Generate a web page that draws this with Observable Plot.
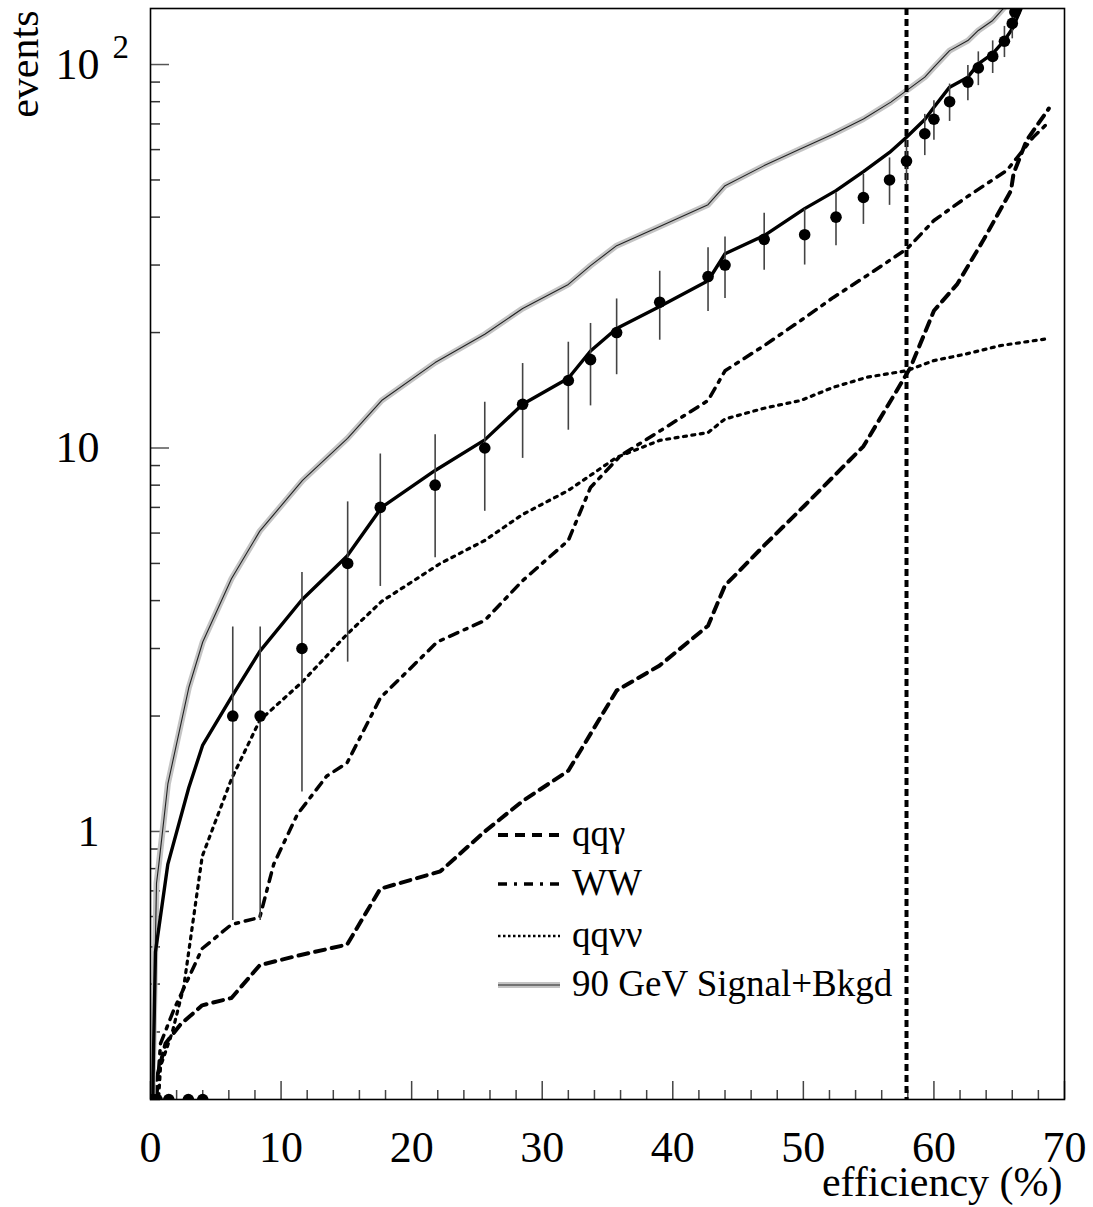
<!DOCTYPE html>
<html><head><meta charset="utf-8">
<script src="https://cdn.jsdelivr.net/npm/d3@7"></script>
<script src="https://cdn.jsdelivr.net/npm/@observablehq/plot@0.6"></script>
<style>
html,body{margin:0;padding:0;background:#fff;}
#wrap{position:relative;width:1093px;height:1207px;}
</style></head><body><div id="wrap"></div>
<script>
// ---------- data ----------
// observed data points (events), zero counts sit on the axis floor
const dataX = [0.2, 0.5, 1.4, 2.9, 4.0, 6.3, 8.4, 11.6, 15.1, 17.6, 21.8, 25.6, 28.5, 32.0, 33.7, 35.7, 39.0, 42.7, 44.0, 47.0, 50.1, 52.5, 54.6, 56.6, 57.9, 59.3, 60.0, 61.2, 62.6, 63.4, 64.5, 65.4, 66.0, 66.2, 66.4];
const dataY = [0, 0, 0, 0, 0, 2, 2, 3, 5, 7, 8, 10, 13, 15, 17, 20, 24, 28, 30, 35, 36, 40, 45, 50, 56, 66, 72, 80, 90, 98, 105, 115, 128, 137, 145];

// total background (solid black)
const bkgX = [0.12, 0.2, 0.38, 1.33, 2.93, 4.0, 6.2, 8.37, 11.6, 15.06, 17.7, 21.8, 25.6, 28.5, 32.0, 33.7, 35.7, 39.0, 42.7, 44.0, 47.0, 50.1, 52.5, 54.6, 56.6, 57.9, 59.3, 60.0, 61.2, 62.6, 63.4, 64.5, 65.4, 66.0, 66.6, 67.0];
const bkgY = [0.1, 0.232, 0.485, 0.822, 1.30, 1.68, 2.24, 2.95, 4.02, 5.23, 7.0, 8.74, 10.5, 13.0, 15.2, 17.9, 20.5, 23.4, 27.3, 32.1, 35.8, 42.1, 46.9, 52.6, 59.0, 64.6, 71.9, 77.4, 87.3, 92.7, 100.4, 106.7, 115.6, 124, 138, 150];

// 90 GeV signal + background (grey)
const sigX = [0.08, 0.25, 0.46, 0.64, 1.33, 2.93, 4.0, 6.2, 8.37, 11.64, 15.09, 17.7, 21.8, 25.6, 28.5, 32.0, 33.7, 35.7, 39.0, 42.7, 44.0, 47.0, 49.8, 52.3, 54.6, 56.7, 57.9, 59.3, 60.0, 61.2, 62.6, 63.4, 64.5, 65.4, 66.0];
const sigY = [0.15, 0.306, 0.733, 0.822, 1.33, 2.37, 3.12, 4.56, 6.07, 8.23, 10.6, 13.3, 16.7, 19.8, 23.1, 26.7, 29.9, 33.7, 37.8, 43.1, 48.3, 54.5, 60.3, 65.9, 72.1, 79.8, 85.5, 92.7, 98.4, 108.7, 115.5, 122.7, 130.3, 141, 152];

// qq gamma (dashed)
const qqgX = [0.1, 0.25, 1.15, 2.3, 3.96, 6.2, 8.37, 11.24, 15.06, 17.6, 22.2, 25.6, 28.5, 32.0, 35.7, 39.0, 42.7, 44.0, 47.0, 50.1, 54.6, 56.7, 58.2, 60.0, 61.8, 63.8, 65.9, 66.1, 67.1, 68.8];
const qqgY = [0.15, 0.212, 0.28, 0.314, 0.352, 0.368, 0.448, 0.474, 0.507, 0.709, 0.787, 1.0, 1.2, 1.44, 2.33, 2.71, 3.44, 4.38, 5.57, 7.08, 10.1, 13.3, 16.2, 22.8, 26.8, 34.9, 46.9, 52, 63.4, 76.8];

// WW (dash-dot)
const wwX = [0.2, 0.77, 1.79, 3.96, 6.2, 8.37, 9.44, 11.24, 13.5, 15.06, 17.6, 21.96, 25.6, 28.5, 32.0, 33.7, 36.0, 39.06, 42.7, 44.0, 47.0, 49.8, 52.3, 54.9, 57.95, 60.0, 62.5, 65.6, 67.6, 68.8];
const wwY = [0.15, 0.28, 0.343, 0.495, 0.572, 0.597, 0.822, 1.107, 1.395, 1.51, 2.23, 3.12, 3.55, 4.51, 5.74, 7.89, 9.55, 11.1, 13.3, 15.9, 18.5, 21.5, 24.7, 28.2, 33.1, 39.2, 45.1, 53, 64.6, 70.8];

// qq nu nu (dotted)
const qqnnX = [0.4, 0.77, 1.66, 2.55, 3.96, 6.2, 8.37, 11.6, 15.06, 17.7, 22.2, 25.6, 28.5, 32.0, 35.7, 39.0, 42.7, 44.0, 47.0, 49.8, 52.3, 54.9, 57.9, 60.0, 62.5, 65.1, 68.8];
const qqnnY = [0.15, 0.244, 0.299, 0.394, 0.861, 1.37, 1.95, 2.45, 3.27, 3.98, 5.0, 5.74, 6.71, 7.75, 9.45, 10.47, 10.97, 11.9, 12.7, 13.3, 14.4, 15.3, 15.9, 16.9, 17.6, 18.5, 19.3];

// selection cut (vertical dashed line)
const cutX = [57.9];

// axes
const xDomain = [0, 70];
const yDomain = [0.2, 140];
const xMajor = [0, 10, 20, 30, 40, 50, 60, 70];
const xMinor = [2, 4, 6, 8, 12, 14, 16, 18, 22, 24, 26, 28, 32, 34, 36, 38, 42, 44, 46, 48, 52, 54, 56, 58, 62, 64, 66, 68];
const yMajor = [1, 10, 100];
const yMinor = [0.2, 0.3, 0.4, 0.5, 0.6, 0.7, 0.8, 0.9, 2, 3, 4, 5, 6, 7, 8, 9, 20, 30, 40, 50, 60, 70, 80, 90];
const yTickLabels = [{v: 1, t: "1", sup: ""}, {v: 10, t: "10", sup: ""}, {v: 100, t: "10", sup: "2"}];
const xTitle = "efficiency (%)";
const yTitle = "events";

const legendLabels = ["qq\u03b3", "WW", "qq\u03bd\u03bd", "90 GeV Signal+Bkgd"];

// ---------- build tables ----------
const zip = (xs, ys) => xs.map((x, i) => ({x, y: ys[i]}));
const pts = zip(dataX, dataY);
const floorY = yDomain[0];

const FONT = "'Liberation Serif', 'Times New Roman', serif";
const DASH_QQG = "10,7";
const DASH_WW = "9,7,3,7";
const DASH_QQNN = "3,5.5";

const plot = Plot.plot({
  width: 1093,
  height: 1207,
  marginLeft: 150,
  marginRight: 29,
  marginTop: 8,
  marginBottom: 108,
  style: {fontFamily: FONT, background: "#fff", color: "#000", overflow: "visible"},
  x: {domain: xDomain},
  y: {type: "log", domain: yDomain},
  marks: [
    // ticks (pointing inward)
    Plot.axisX({ticks: xMinor, tickSize: -9, tickFormat: () => "", label: null, stroke: "#444", strokeWidth: 1.5}),
    Plot.axisX({ticks: xMajor, tickSize: -18, tickFormat: () => "", label: null, stroke: "#444", strokeWidth: 1.5}),
    Plot.axisY({ticks: yMinor, tickSize: -10, tickFormat: () => "", label: null, stroke: "#333", strokeWidth: 1.5}),
    Plot.axisY({ticks: yMajor, tickSize: -19, tickFormat: () => "", label: null, stroke: "#555", strokeWidth: 1.5}),
    // tick labels
    Plot.text(xMajor, {x: d => d, frameAnchor: "bottom", lineAnchor: "bottom", dy: 62, fontSize: 44, fill: "#000"}),
    Plot.text(yTickLabels, {y: "v", text: "t", frameAnchor: "left", textAnchor: "end", dx: -51, fontSize: 44, fill: "#000"}),
    Plot.text(yTickLabels.filter(d => d.sup), {y: "v", text: "sup", frameAnchor: "left", textAnchor: "start", dx: -38, dy: -17, fontSize: 33, fill: "#000"}),
    // titles
    Plot.text([xTitle], {frameAnchor: "bottom-right", textAnchor: "end", lineAnchor: "bottom", dx: -2, dy: 96, fontSize: 42, fill: "#000"}),
    Plot.text([yTitle], {frameAnchor: "top-left", textAnchor: "end", lineAnchor: "bottom", rotate: -90, dx: -113, dy: 2, fontSize: 42, fill: "#000"}),
    // series
    Plot.line(zip(qqnnX, qqnnY), {x: "x", y: "y", stroke: "#000", strokeWidth: 3.2, strokeDasharray: DASH_QQNN, clip: true}),
    Plot.line(zip(qqgX, qqgY), {x: "x", y: "y", stroke: "#000", strokeWidth: 4, strokeDasharray: DASH_QQG, clip: true}),
    Plot.line(zip(wwX, wwY), {x: "x", y: "y", stroke: "#000", strokeWidth: 3.5, strokeDasharray: DASH_WW, clip: true}),
    Plot.line(zip(sigX, sigY), {x: "x", y: "y", stroke: "#c4c4c4", strokeWidth: 6, clip: true}),
    Plot.line(zip(sigX, sigY), {x: "x", y: "y", stroke: "#222", strokeWidth: 1.1, clip: true}),
    Plot.line(zip(bkgX, bkgY), {x: "x", y: "y", stroke: "#000", strokeWidth: 3.4, clip: true}),
    Plot.ruleX(cutX, {x: d => d, stroke: "#000", strokeWidth: 4, strokeDasharray: "7,4"}),
    Plot.ruleX(pts.filter(d => d.y > 0), {x: "x", y1: d => d.y - Math.sqrt(d.y), y2: d => d.y + Math.sqrt(d.y), stroke: "#444", strokeWidth: 1.6, clip: true}),
    Plot.dot(pts, {x: "x", y: d => Math.max(d.y, floorY), r: 5.8, fill: "#000", stroke: "none", clip: true}),
    Plot.frame({stroke: "#000", strokeWidth: 1.6})
  ]
});

document.getElementById("wrap").appendChild(plot);

// ---------- legend (drawn inside the same svg) ----------
const svg = d3.select(plot);
const legendStyles = [
  [{stroke: "#000", w: 4, dash: DASH_QQG}],
  [{stroke: "#000", w: 3.5, dash: DASH_WW}],
  [{stroke: "#000", w: 2.6, dash: "2.5,2.5"}],
  [{stroke: "#c4c4c4", w: 6, dash: null}, {stroke: "#222", w: 1.1, dash: null}]
];
const legendRowY = [835, 884, 936, 985];
const lg = svg.append("g").attr("font-family", FONT).attr("text-anchor", "start");
legendLabels.forEach((lab, i) => {
  const y = legendRowY[i];
  legendStyles[i].forEach(s => {
    lg.append("line").attr("x1", 498).attr("x2", 560).attr("y1", y).attr("y2", y)
      .attr("stroke", s.stroke).attr("stroke-width", s.w)
      .attr("stroke-dasharray", s.dash);
  });
  lg.append("text").attr("x", 572).attr("y", y + 11).attr("font-size", 37)
    .attr("text-anchor", "start").attr("fill", "#000").text(lab);
});
</script></body></html>
